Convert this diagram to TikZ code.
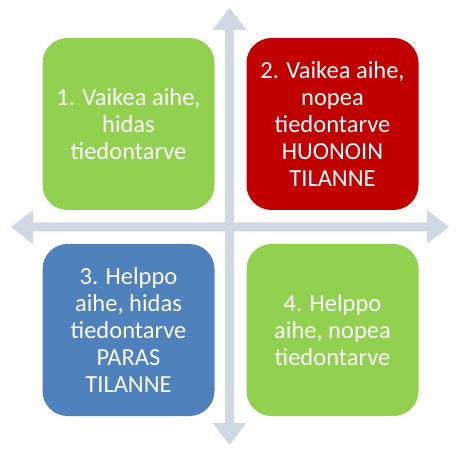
\documentclass[tikz,border=0pt]{standalone}
\usepackage{fontspec}
\setmainfont{Carlito}
\definecolor{boxgreen}{HTML}{92D050}
\definecolor{boxred}{HTML}{C00000}
\definecolor{boxblue}{HTML}{4F81BD}
\definecolor{axiscol}{HTML}{D0D7E5}
\tikzset{
  quadbox/.style={rounded corners=25pt, minimum width=172pt, minimum height=172pt,
    inner sep=0pt, text=white, align=center,
    font=\fontsize{24.5}{26.8}\selectfont},
  axisarrow/.style={fill=axiscol, draw=none}
}
\begin{document}
\begin{tikzpicture}[x=1pt,y=-1pt]
\useasboundingbox (0,0) rectangle (460,454);
% cross arrows
\fill[axisarrow] (225,30) -- (212.5,30) -- (229.5,8) -- (246.5,30) -- (234,30)
  -- (234,423) -- (246.5,423) -- (229.5,445) -- (212.5,423) -- (225,423) -- cycle;
\fill[axisarrow] (33,222.5) -- (33,210) -- (11,227) -- (33,244) -- (33,231.5)
  -- (427,231.5) -- (427,244) -- (449,227) -- (427,210) -- (427,222.5) -- cycle;
% quadrants
\node[quadbox, fill=boxgreen] (q1) at (128.5,124) {1. Vaikea aihe,\\hidas\\tiedontarve};
\node[quadbox, fill=boxred] (q2) at (332.5,124) {2. Vaikea aihe,\\nopea\\tiedontarve\\HUONOIN\\TILANNE};
\node[quadbox, fill=boxblue] (q3) at (128.5,330) {3. Helppo\\aihe, hidas\\tiedontarve\\PARAS\\TILANNE};
\node[quadbox, fill=boxgreen] (q4) at (332.5,330) {4. Helppo\\aihe, nopea\\tiedontarve};
\end{tikzpicture}
\end{document}
